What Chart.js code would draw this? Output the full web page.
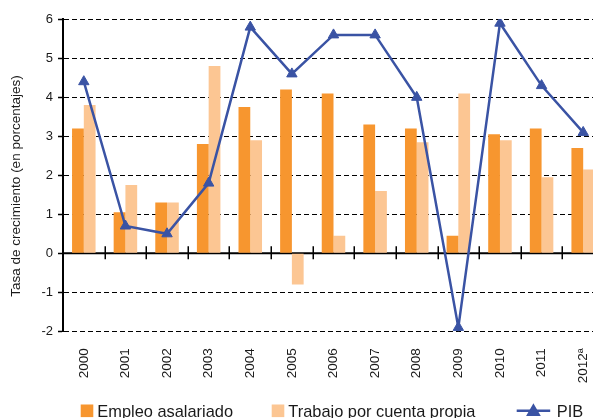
<!DOCTYPE html>
<html>
<head>
<meta charset="utf-8">
<script src="https://cdn.jsdelivr.net/npm/chart.js@4/dist/chart.umd.min.js"></script>
<style>
  html, body { margin: 0; padding: 0; background: #fff; overflow: hidden; }
  #wrap { width: 604px; height: 418px; }
</style>
</head>
<body>
<div id="wrap"><canvas id="c" width="604" height="418"></canvas></div>
<script>
// Annual growth rates, in percent
const years = ['2000', '2001', '2002', '2003', '2004', '2005', '2006', '2007', '2008', '2009', '2010', '2011', '2012\u00aa'];
const empleoAsalariado = [3.2, 1.05, 1.3, 2.8, 3.75, 4.2, 4.1, 3.3, 3.2, 0.45, 3.05, 3.2, 2.7];
const trabajoCuentaPropia = [3.8, 1.75, 1.3, 4.8, 2.9, -0.8, 0.45, 1.6, 2.85, 4.1, 2.9, 1.95, 2.15];
const pib = [4.4, 0.7, 0.5, 1.8, 5.8, 4.6, 5.6, 5.6, 4.0, -1.9, 5.9, 4.3, 3.1];
const yMin = -2, yMax = 6, yStep = 1;
const seriesNames = ['Empleo asalariado', 'Trabajo por cuenta propia', 'PIB'];
const yTitle = 'Tasa de crecimiento (en porcentajes)';

const ORANGE = '#F7962F';
const PEACH = '#FCC693';
const BLUE = '#3A53A4';
const TEXT = '#1a1a1a';
const FONT = '"Liberation Sans", Arial, sans-serif';

Chart.defaults.font.family = FONT;
Chart.defaults.color = TEXT;

// Zero axis with category separators, rotated axis title and legend row
const decor = {
  id: 'decor',
  beforeDatasetsDraw(chart) {
    const { ctx, chartArea: a, scales: { x, y } } = chart;
    const y0 = y.getPixelForValue(0);
    const half = (x.getPixelForValue(1) - x.getPixelForValue(0)) / 2;
    ctx.save();
    ctx.strokeStyle = '#000';
    ctx.lineWidth = 2;
    ctx.beginPath();
    ctx.moveTo(a.left, y0);
    ctx.lineTo(a.right, y0);
    ctx.stroke();
    ctx.lineWidth = 1.5;
    for (let i = 1; i <= years.length; i++) {
      const px = Math.round(x.getPixelForValue(i - 1) + half) + 0.25;
      ctx.beginPath();
      ctx.moveTo(px, y0 - 7);
      ctx.lineTo(px, y0 + 6);
      ctx.stroke();
    }
    ctx.restore();
  },
  afterDraw(chart) {
    const { ctx } = chart;
    ctx.save();
    // axis title
    ctx.translate(16.5, 186);
    ctx.rotate(-Math.PI / 2);
    ctx.font = '13.5px ' + FONT;
    ctx.fillStyle = TEXT;
    ctx.textAlign = 'center';
    ctx.textBaseline = 'middle';
    ctx.fillText(yTitle, 0, 0);
    ctx.restore();

    // legend
    const ds = chart.data.datasets;
    const starts = [80.7, 271.7, 516.7];
    const top = 404.5, box = 12.6, baseline = 416.5;
    ctx.save();
    ctx.font = '16.4px ' + FONT;
    ctx.fillStyle = TEXT;
    ctx.textBaseline = 'alphabetic';
    ds.forEach((d, i) => {
      const x0 = starts[i];
      let tx;
      if (d.type === 'line') {
        const cy = top + box / 2;
        ctx.strokeStyle = d.borderColor;
        ctx.lineWidth = d.borderWidth;
        ctx.beginPath();
        ctx.moveTo(x0, cy);
        ctx.lineTo(x0 + 33.5, cy);
        ctx.stroke();
        Chart.helpers.drawPoint(ctx, {
          pointStyle: 'triangle', radius: d.pointRadius, borderWidth: 1
        }, x0 + 16.75, cy + 1);
        ctx.fillStyle = d.pointBackgroundColor;
        ctx.fill();
        tx = x0 + 40;
      } else {
        ctx.fillStyle = d.backgroundColor;
        ctx.fillRect(x0, top, box, box);
        tx = x0 + box + 4;
      }
      ctx.fillStyle = TEXT;
      ctx.fillText(d.label, tx, baseline);
    });
    ctx.restore();
  }
};

new Chart(document.getElementById('c'), {
  type: 'bar',
  data: {
    labels: years,
    datasets: [
      {
        type: 'bar', label: seriesNames[0], data: empleoAsalariado,
        backgroundColor: ORANGE, borderWidth: 0, order: 1,
        categoryPercentage: 0.565, barPercentage: 1
      },
      {
        type: 'bar', label: seriesNames[1], data: trabajoCuentaPropia,
        backgroundColor: PEACH, borderWidth: 0, order: 1,
        categoryPercentage: 0.565, barPercentage: 1
      },
      {
        type: 'line', label: seriesNames[2], data: pib,
        borderColor: BLUE, borderWidth: 2.5, tension: 0, fill: false,
        pointStyle: 'triangle', pointRadius: 6, pointBorderWidth: 1,
        pointBackgroundColor: BLUE, pointBorderColor: BLUE, order: 0
      }
    ]
  },
  options: {
    responsive: false,
    animation: false,
    events: [],
    layout: { autoPadding: false, padding: { top: 19.3, left: 0, right: 0, bottom: 0 } },
    plugins: { legend: { display: false }, tooltip: { enabled: false } },
    scales: {
      x: {
        type: 'category',
        grid: {
          display: true, drawOnChartArea: false, drawTicks: true,
          tickLength: 17, tickColor: 'rgba(0,0,0,0)', color: 'rgba(0,0,0,0)'
        },
        border: { display: false },
        ticks: {
          autoSkip: false, minRotation: 90, maxRotation: 90, padding: 0,
          color: TEXT, font: { size: 13.5, family: FONT }
        },
        afterFit(s) {
          s.height = 418 - 331.3;
          s.paddingLeft = 0;
          s.paddingRight = 0;
        }
      },
      y: {
        min: yMin, max: yMax,
        ticks: { stepSize: yStep, padding: 5, color: TEXT, font: { size: 13, family: FONT } },
        grid: {
          color: c => (c.tick && c.tick.value === 0) ? 'rgba(0,0,0,0)' : '#000',
          lineWidth: 1, drawTicks: true, tickLength: 5, tickColor: '#000', tickWidth: 1.5
        },
        border: { display: true, color: '#000', width: 2, dash: [5, 3] },
        afterFit(s) { s.width = 63; }
      }
    }
  },
  plugins: [decor]
});
</script>
</body>
</html>
